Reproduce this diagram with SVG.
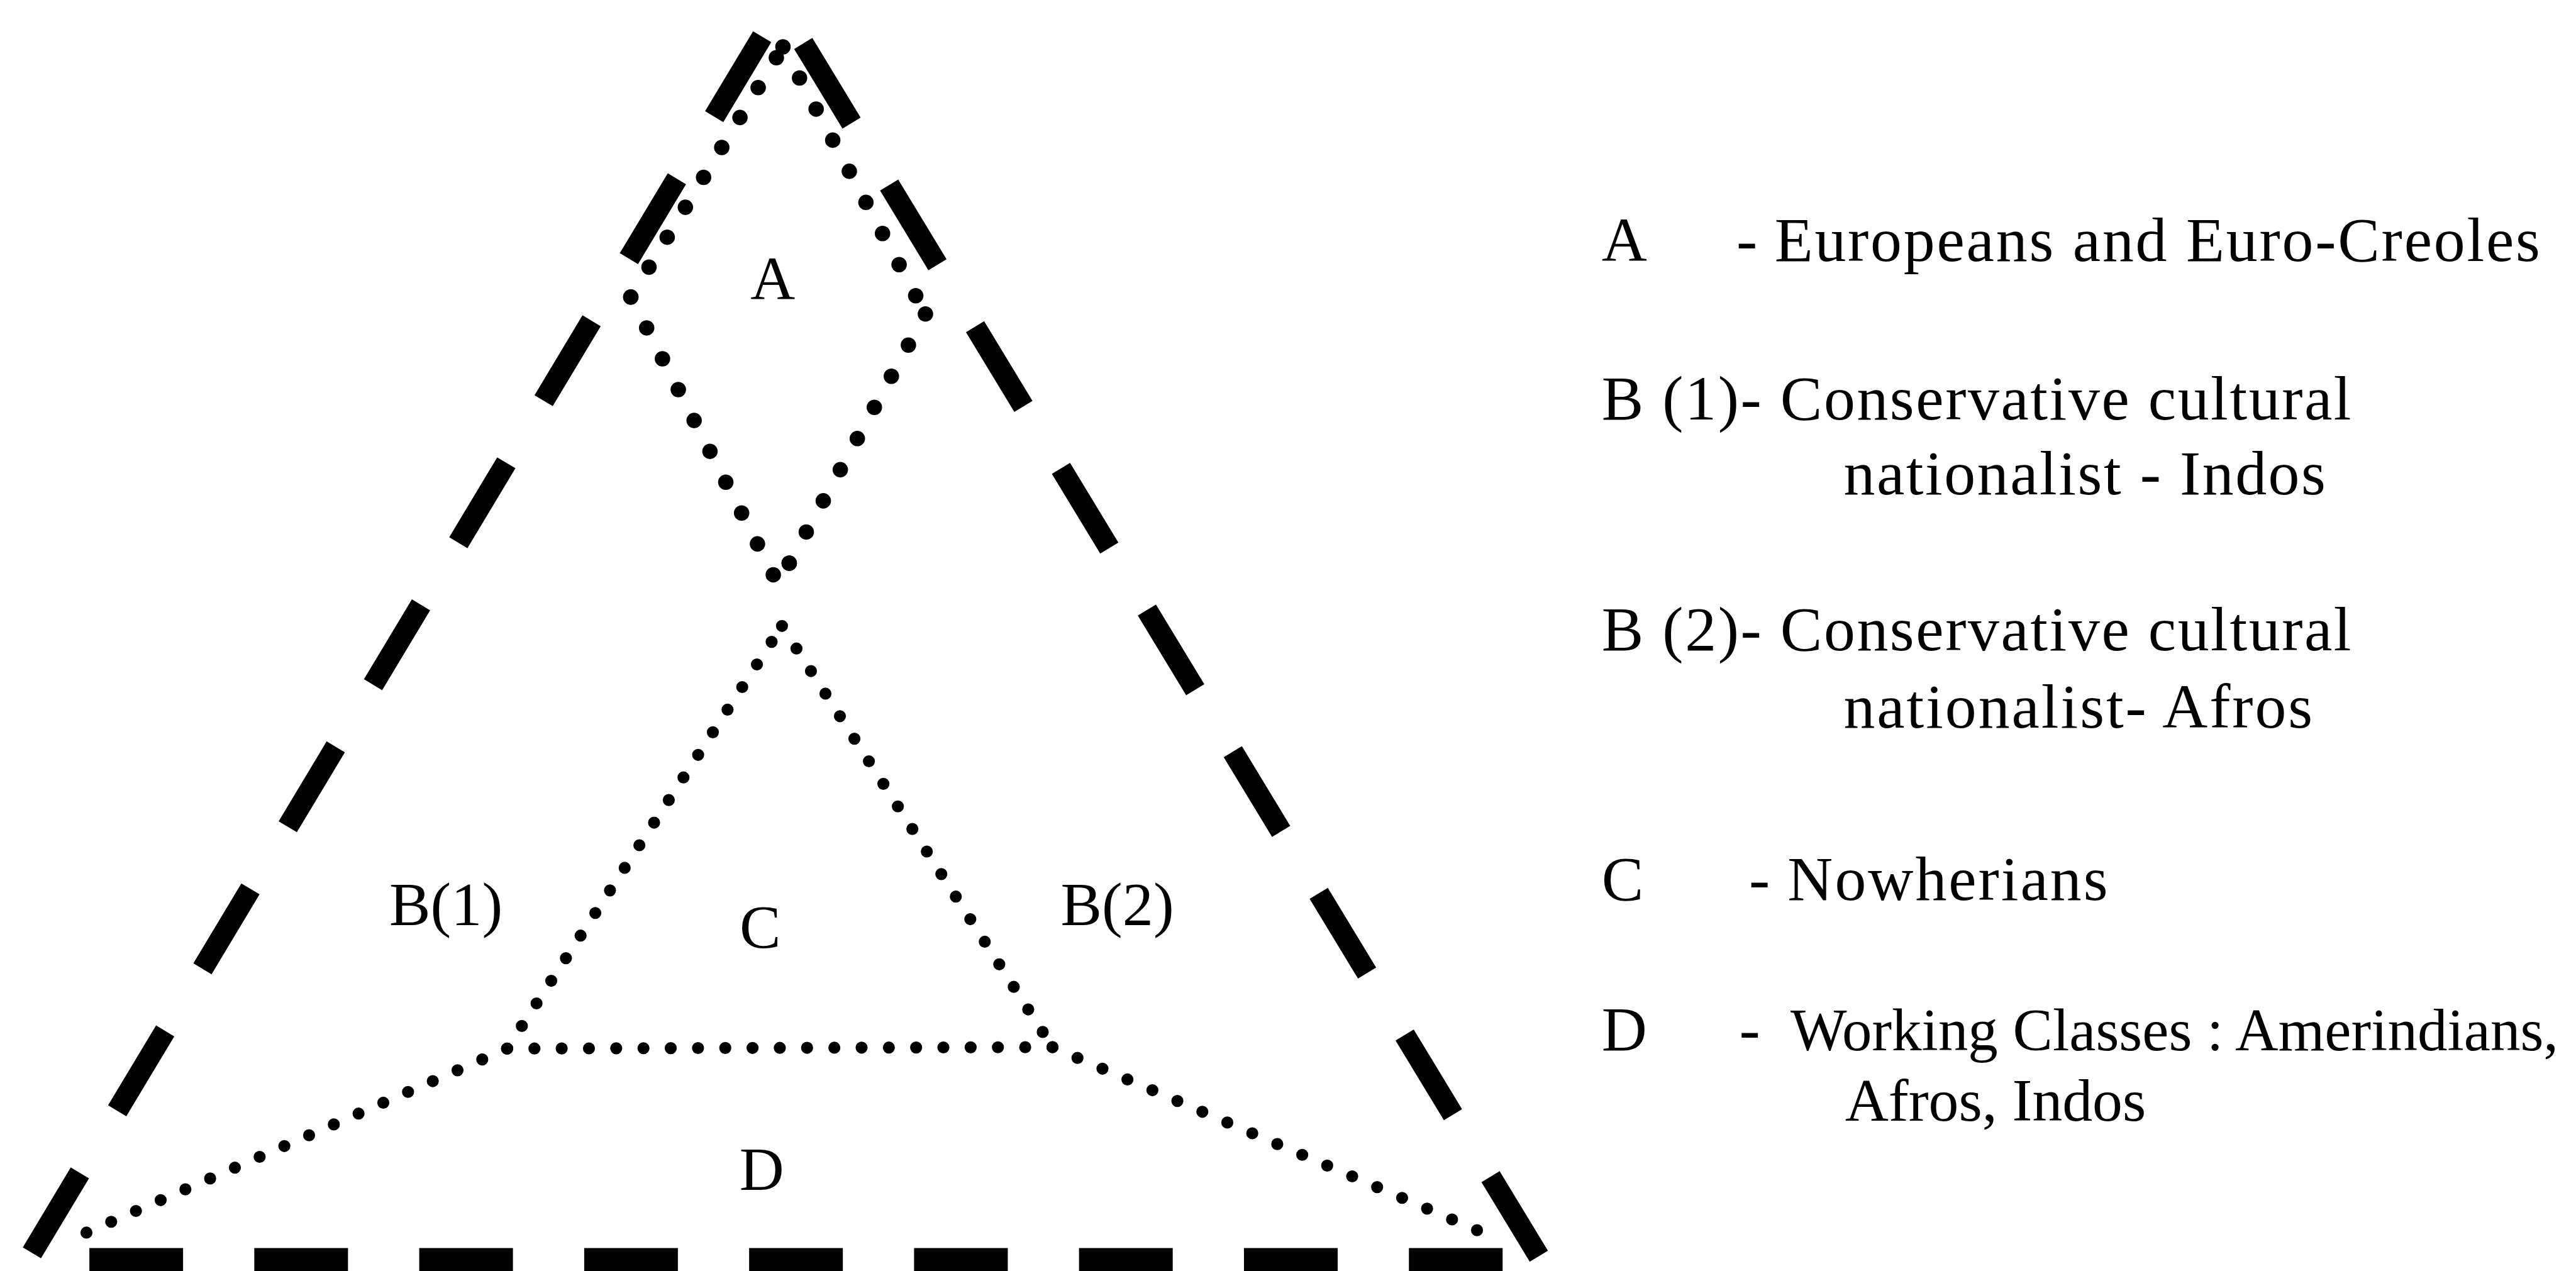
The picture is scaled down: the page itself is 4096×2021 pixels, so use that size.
<svg xmlns="http://www.w3.org/2000/svg" width="4096" height="2021" viewBox="0 0 4096 2021">
<style>
.dash{fill:none;stroke:#000;stroke-width:44;stroke-linecap:butt;stroke-dasharray:193 150}
.base{fill:none;stroke:#000;stroke-width:48;stroke-linecap:butt;stroke-dasharray:194 147.5}
.big{fill:none;stroke:#000;stroke-width:32;stroke-linecap:round}
.small{fill:none;stroke:#000;stroke-width:25;stroke-linecap:round}
text{font-family:"Liberation Serif","Times New Roman",serif;font-size:128px;fill:#000}
.lg{font-size:130px}
.lgn{font-size:123px}
</style>
<rect width="4096" height="2021" fill="#fff"/>
<g transform="scale(0.768)">
<g id="connectors">
<g id="outer-triangle">
<path class="dash" d="M1578,76 L66,2594"/>
<path class="dash" d="M1663,90 L3186,2601"/>
<path class="base" d="M185,2608 L3112,2608"/>
</g>
<g id="region-A-boundary">
<path class="big" d="M1306,615 L1621,97" stroke-dasharray="0 72.5"/>
<path class="big" d="M1621,97 L1916,650" stroke-dasharray="0 73"/>
<path class="big" d="M1601,1190 L1306,615" stroke-dasharray="0 71.8"/>
<path class="big" d="M1916,650 L1634,1166" stroke-dasharray="0 73.5"/>
<circle cx="1634" cy="1166" r="16"/>
</g>
<g id="region-C-boundary">
<path class="small" d="M1050,2171 L1619,1296" stroke-dasharray="0 55.8"/>
<path class="small" d="M1619,1296 L2179,2168" stroke-dasharray="0 55.5"/>
<path class="small" d="M2179,2168 L1050,2171" stroke-dasharray="0 56.45"/>
</g>
<g id="region-D-boundary">
<path class="small" d="M179,2552 L1050,2171" stroke-dasharray="0 55.9"/>
<path class="small" d="M3058,2547 L2179,2168" stroke-dasharray="0 56.3"/>
</g>
</g>
<g id="node-A"><text x="1600" y="619" text-anchor="middle">A</text></g>
<g id="node-B1"><text x="806" y="1916">B(1)</text></g>
<g id="node-C"><text x="1574" y="1962" text-anchor="middle">C</text></g>
<g id="node-B2"><text x="2196" y="1916">B(2)</text></g>
<g id="node-D"><text x="1577" y="2463" text-anchor="middle">D</text></g>
<g id="legend">
<g id="legend-A">
<text class="lg" x="3316" y="540">A</text>
<text class="lg" x="3595" y="540">-</text>
<text class="lg" x="3674" y="540" textLength="1585" lengthAdjust="spacing">Europeans and Euro-Creoles</text>
</g>
<g id="legend-B1">
<text class="lg" x="3316" y="868" textLength="1552" lengthAdjust="spacing">B (1)- Conservative cultural</text>
<text class="lg" x="3817" y="1023" textLength="998" lengthAdjust="spacing">nationalist - Indos</text>
</g>
<g id="legend-B2">
<text class="lg" x="3316" y="1346" textLength="1552" lengthAdjust="spacing">B (2)- Conservative cultural</text>
<text class="lg" x="3817" y="1507" textLength="971" lengthAdjust="spacing">nationalist- Afros</text>
</g>
<g id="legend-C">
<text class="lg" x="3316" y="1863">C</text>
<text class="lg" x="3621" y="1863">-</text>
<text class="lg" x="3701" y="1863" textLength="663" lengthAdjust="spacing">Nowherians</text>
</g>
<g id="legend-D">
<text class="lg" x="3316" y="2174">D</text>
<text class="lg" x="3601" y="2174">-</text>
<text class="lgn" x="3707" y="2174" textLength="1590" lengthAdjust="spacingAndGlyphs">Working Classes : Amerindians,</text>
<text class="lgn" x="3820" y="2320" textLength="623" lengthAdjust="spacingAndGlyphs">Afros, Indos</text>
</g>
</g>
</g>
</svg>
